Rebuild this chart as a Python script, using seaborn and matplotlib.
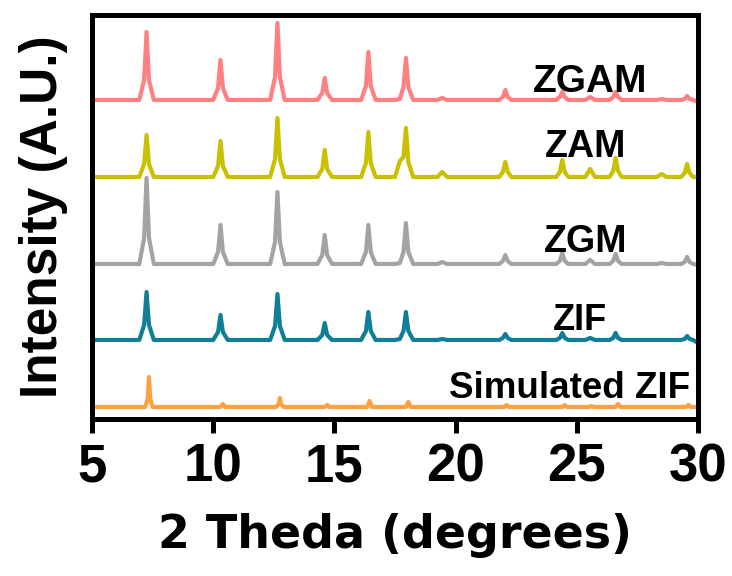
import matplotlib
matplotlib.use("Agg")
import matplotlib.pyplot as plt
from matplotlib import font_manager
import seaborn as sns
import pandas as pd

# ---------------- data ----------------
samples = ["ZGAM", "ZAM", "ZGM", "ZIF", "Simulated ZIF"]

# 2-theta sample points of the measured patterns (peak bases, flanks, tops)
x_exp = [5.0,
         6.95, 7.15, 7.25, 7.35, 7.55,
         10.0, 10.2, 10.3, 10.4, 10.6,
         12.35, 12.55, 12.65, 12.75, 12.95,
         14.3, 14.5, 14.6, 14.7, 14.9,
         16.1, 16.3, 16.4, 16.5, 16.7,
         17.5, 17.7, 17.85, 17.95, 18.05, 18.25,
         19.25, 19.45, 19.65,
         21.8, 21.95, 22.05, 22.15, 22.3,
         24.15, 24.3, 24.4, 24.5, 24.65,
         25.35, 25.55, 25.75,
         26.35, 26.5, 26.6, 26.7, 26.85,
         28.3, 28.5, 28.7,
         29.3, 29.45, 29.55, 29.65, 29.8,
         30.0]

# intensities (arbitrary units) at those points
y_zgam = [0,
          0, 20, 68, 20, 0,
          0, 12, 40, 12, 0,
          0, 23, 77, 23, 0,
          0, 7, 22, 7, 0,
          0, 14, 48, 14, 0,
          0, 1, 13, 42, 13, 0,
          0, 2, 0,
          0, 3, 10, 3, 0,
          0, 3, 8, 3, 0,
          0, 3, 0,
          0, 3, 8, 3, 0,
          0, 1, 0,
          0, 1, 4, 1, 0,
          -2]
y_zam = [0,
         0, 13, 42, 13, 0,
         0, 11, 36, 11, 0,
         0, 18, 59, 18, 0,
         0, 8, 27, 8, 0,
         0, 14, 45, 14, 0,
         0, 16, 20, 49, 15, 0,
         0, 5, 0,
         0, 5, 15, 5, 0,
         0, 5, 17, 5, 0,
         0, 8, 0,
         0, 6, 19, 6, 0,
         0, 3, 0,
         0, 4, 13, 4, 0,
         0]
y_zgm = [0,
         0, 26, 86, 26, 0,
         0, 12, 39, 12, 0,
         0, 22, 72, 22, 0,
         0, 9, 29, 9, 0,
         0, 12, 39, 12, 0,
         0, 1, 12, 41, 12, 0,
         0, 2, 0,
         0, 3, 9, 3, 0,
         0, 3, 11, 3, 0,
         0, 4, 0,
         0, 3, 10, 3, 0,
         0, 1, 0,
         0, 2, 7, 2, 0,
         -1]
y_zif = [0,
         0, 15, 48, 15, 0,
         0, 8, 25, 8, 0,
         0, 14, 46, 14, 0,
         0, 5, 17, 5, 0,
         0, 9, 28, 9, 0,
         0, 1, 9, 28, 9, 0,
         0, 1, 0,
         0, 2, 6, 2, 0,
         0, 2, 7, 2, 0,
         0, 2, 0,
         0, 2, 7, 2, 0,
         0, 0, 0,
         0, 1, 4, 1, 0,
         -3]

x_sim = [5.0,
         7.2, 7.3, 7.35, 7.4, 7.5,
         10.3, 10.4, 10.5,
         12.6, 12.7, 12.75, 12.8, 12.9,
         14.6, 14.7, 14.8,
         16.35, 16.45, 16.55,
         17.95, 18.05, 18.15,
         22.0, 22.1, 22.2,
         24.4, 24.5, 24.6,
         25.5, 25.6, 25.7,
         26.6, 26.7, 26.8,
         29.5, 29.6, 29.7,
         30.0]
y_sim = [0,
         0, 9, 30, 9, 0,
         0, 3, 0,
         0, 3, 9, 3, 0,
         0, 2, 0,
         0, 6, 0,
         0, 5, 0,
         0, 2, 0,
         0, 2, 0,
         0, 1, 0,
         0, 3, 0,
         0, 2, 0,
         0]

# vertical stacking offsets of each pattern
offsets = {"ZGAM": 319, "ZAM": 242, "ZGM": 155, "ZIF": 79, "Simulated ZIF": 12}

colors = {"ZGAM": "#FF8080", "ZAM": "#C8C000", "ZGM": "#A3A3A6",
          "ZIF": "#0F7E96", "Simulated ZIF": "#FFA040"}

x_ticks = [5, 10, 15, 20, 25, 30]

# label anchor positions (data coords)
label_pos = {"ZGAM": (25.54, 327), "ZAM": (25.34, 262), "ZGM": (25.38, 167),
             "ZIF": (25.13, 89), "Simulated ZIF": (24.68, 21)}
label_size = {"ZGAM": 28, "ZAM": 27, "ZGM": 27, "ZIF": 26, "Simulated ZIF": 26.5}

# ---------------- build long table ----------------
series = {"ZGAM": (x_exp, y_zgam), "ZAM": (x_exp, y_zam), "ZGM": (x_exp, y_zgm),
          "ZIF": (x_exp, y_zif), "Simulated ZIF": (x_sim, y_sim)}
rows = []
for s in samples:
    xs, ys = series[s]
    for xv, yv in zip(xs, ys):
        rows.append({"two_theta": xv, "intensity": yv + offsets[s], "sample": s})
df = pd.DataFrame(rows)

# ---------------- style ----------------
sns.set_theme(style="white")


def has_font(name):
    try:
        font_manager.findfont(font_manager.FontProperties(family=name),
                              fallback_to_default=False)
        return True
    except Exception:
        return False


base_font = "Liberation Sans" if has_font("Liberation Sans") else "DejaVu Sans"
narrow_font = "Liberation Sans Narrow" if has_font("Liberation Sans Narrow") else base_font
plt.rcParams["font.family"] = [base_font, "DejaVu Sans"]
plt.rcParams["text.color"] = "black"
plt.rcParams["axes.labelcolor"] = "black"
plt.rcParams["xtick.color"] = "black"
plt.rcParams["ytick.color"] = "black"

fig = plt.figure(figsize=(7.32, 5.76), dpi=100)
ax = fig.add_axes([0.1257, 0.2726, 0.9536 - 0.1257, 0.974 - 0.2726])

sns.lineplot(data=df, x="two_theta", y="intensity", hue="sample",
             palette=colors, hue_order=samples, sort=False, estimator=None,
             linewidth=3.0, legend=False, ax=ax)

for s in samples:
    lx, ly = label_pos[s]
    ax.text(lx, ly, s, ha="center", va="baseline", fontsize=label_size[s],
            fontweight="bold", color="black", family=[base_font, "DejaVu Sans"])

ax.set_xlim(5, 30)
ax.set_ylim(0, 404)
ax.set_xticks(x_ticks)
ax.set_xticklabels([str(t) for t in x_ticks], fontsize=38, fontweight="bold",
                   family=[narrow_font, "DejaVu Sans"], color="black")
ax.set_yticks([])
ax.tick_params(axis="x", direction="out", length=10, width=3.6, pad=7,
               colors="black", bottom=True)

for sp in ax.spines.values():
    sp.set_visible(True)
    sp.set_color("black")
    sp.set_linewidth(3.6)

ax.set_xlabel("2 Theda (degrees)", fontsize=33, fontweight="bold",
              family=["DejaVu Sans"], labelpad=15, color="black")
ax.set_ylabel("Intensity (A.U.)", fontsize=37, fontweight="bold",
              family=[base_font, "DejaVu Sans"], labelpad=17, color="black")

fig.savefig("out.png", dpi=100)
